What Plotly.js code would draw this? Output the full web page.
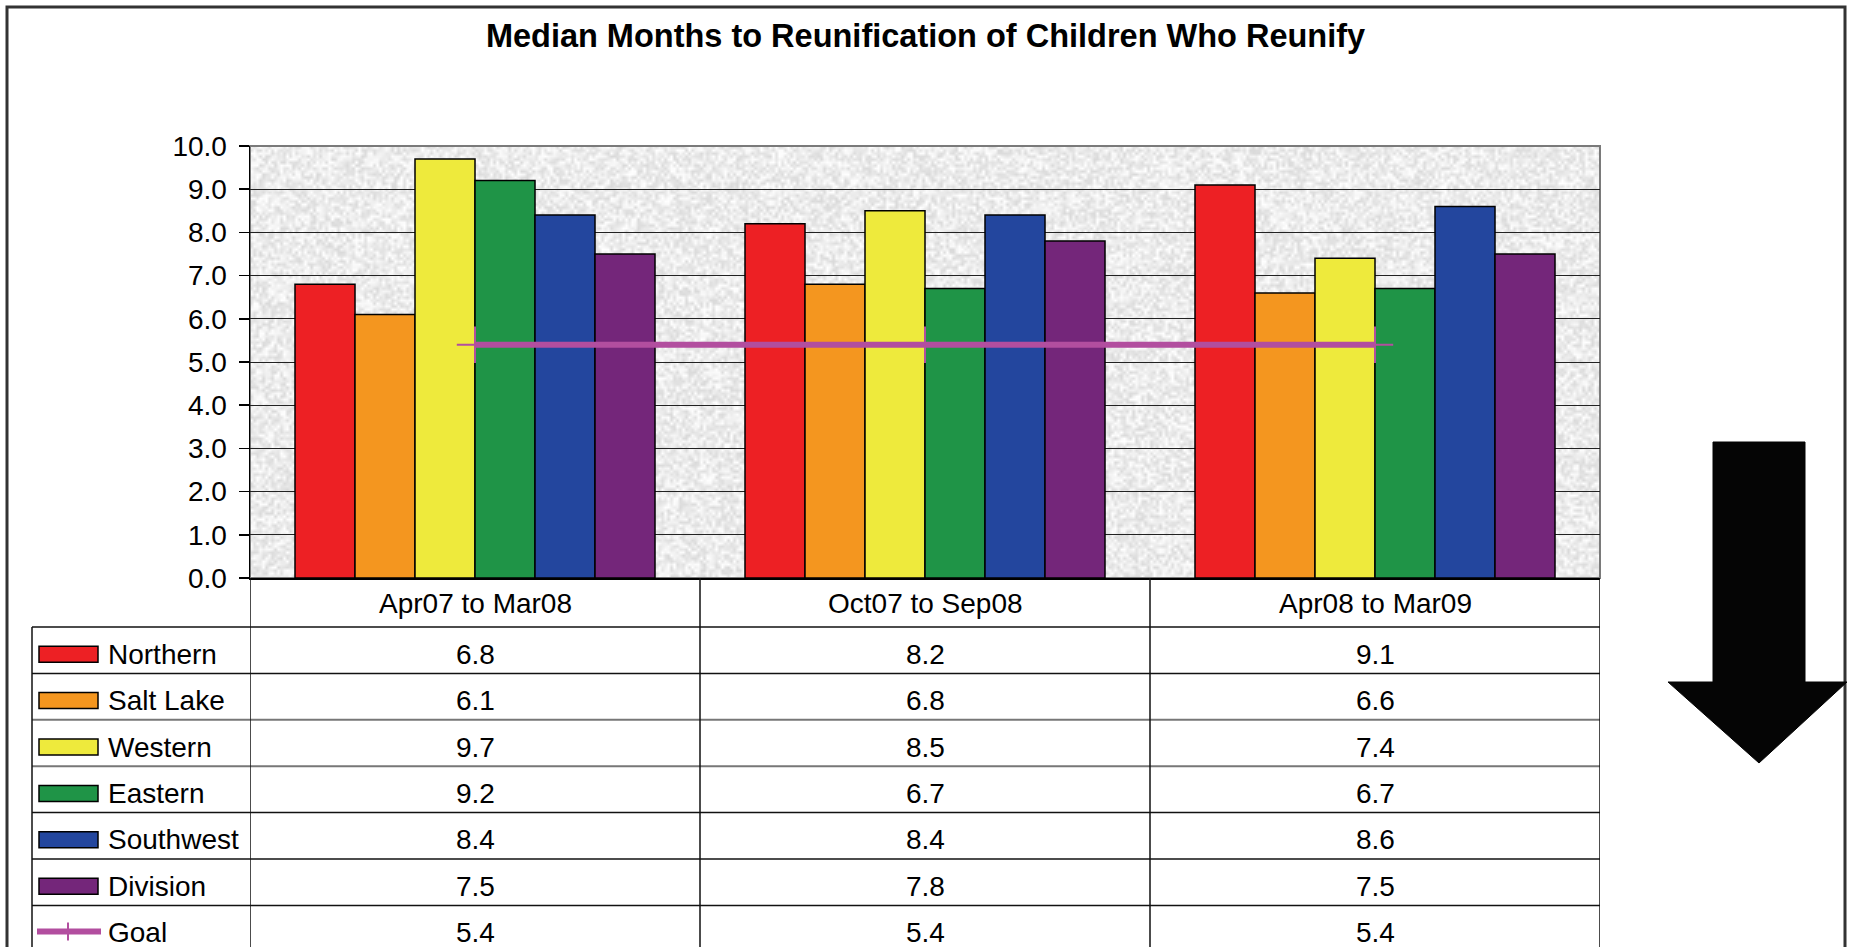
<!DOCTYPE html>
<html>
<head>
<meta charset="utf-8">
<script src="https://cdn.plot.ly/plotly-3.0.1.min.js"></script>
<style>
  html, body { margin: 0; padding: 0; background: #fff; }
  #chart { width: 1851px; height: 947px; }
</style>
</head>
<body>
<div id="chart"></div>
<script>
const periods = ["Apr07 to Mar08", "Oct07 to Sep08", "Apr08 to Mar09"];

const regions = ["Northern", "Salt Lake", "Western", "Eastern", "Southwest", "Division"];
const regionColors = ["#ED2024", "#F4961F", "#EEEA3C", "#1F9447", "#23469E", "#74267A"];

const northern = [6.8, 8.2, 9.1];
const saltLake = [6.1, 6.8, 6.6];
const western = [9.7, 8.5, 7.4];
const eastern = [9.2, 6.7, 6.7];
const southwest = [8.4, 8.4, 8.6];
const division = [7.5, 7.8, 7.5];
const regionValues = [northern, saltLake, western, eastern, southwest, division];

const goal = [5.4, 5.4, 5.4];
const goalColor = "#B24E9F";

const yTicks = [0, 1, 2, 3, 4, 5, 6, 7, 8, 9, 10];

// figure is laid out in pixels, converted to paper fractions
const W = 1851, H = 947;
const px = x => x / W;
const py = y => 1 - y / H;
const FONT = "Arial, 'Liberation Sans', sans-serif";

// light "newsprint" texture for the plot background (decoration only)
function textura() {
  const c = document.createElement("canvas");
  c.width = 450; c.height = 144;
  const ctx = c.getContext("2d");
  const img = ctx.createImageData(c.width, c.height);
  let s = 12345;
  const next = () => { s = (s * 1103515245 + 12345) & 0x7fffffff; return s / 0x7fffffff; };
  for (let i = 0; i < c.width * c.height; i++) {
    const v = 218 + Math.floor(next() * 38);
    img.data[i * 4] = v; img.data[i * 4 + 1] = v; img.data[i * 4 + 2] = v; img.data[i * 4 + 3] = 255;
  }
  ctx.putImageData(img, 0, 0);
  const big = document.createElement("canvas");
  big.width = 1350; big.height = 432;
  const b = big.getContext("2d");
  b.imageSmoothingEnabled = true;
  b.drawImage(c, 0, 0, big.width, big.height);
  return big.toDataURL("image/png");
}

const traces = regions.map((nome, i) => ({
  type: "bar",
  name: nome,
  x: periods,
  y: regionValues[i],
  marker: { color: regionColors[i], line: { color: "#000", width: 1.5 } },
  hoverinfo: "x+y+name"
}));

traces.push({
  type: "scatter",
  mode: "lines+markers",
  name: "Goal",
  x: periods,
  y: goal,
  line: { color: goalColor, width: 6 },
  marker: { symbol: "cross-thin", size: 26, line: { color: goalColor, width: 2 } }
});

// data table under the chart
const headerTop = 578, headerBottom = 627, rowH = 46.4;
const tableLeft = 32, tableRight = 1600, tableBottom = 960;
const shapes = [];
const annotations = [];
const txt = { family: FONT, size: 28, color: "#000" };

periods.forEach(p => {
  annotations.push({
    x: p, xref: "x", xanchor: "center",
    y: py((headerTop + headerBottom) / 2 + 1), yref: "paper", yanchor: "middle",
    text: p, showarrow: false, font: txt
  });
});

const rowNames = regions.concat(["Goal"]);
const rowValues = regionValues.concat([goal]);

rowNames.forEach((nome, r) => {
  const top = headerBottom + r * rowH;
  const mid = top + rowH / 2 + 4;
  rowValues[r].forEach((v, c) => {
    annotations.push({
      x: periods[c], xref: "x", xanchor: "center",
      y: py(mid), yref: "paper", yanchor: "middle",
      text: v.toFixed(1), showarrow: false, font: txt
    });
  });
  annotations.push({
    x: px(106), xref: "paper", xanchor: "left",
    y: py(mid), yref: "paper", yanchor: "middle",
    text: nome, showarrow: false, font: txt
  });
  if (r < regions.length) {
    shapes.push({
      type: "rect", xref: "paper", yref: "paper",
      x0: px(39), x1: px(98), y0: py(mid - 8), y1: py(mid + 8),
      fillcolor: regionColors[r], line: { color: "#000", width: 1.5 }
    });
  } else {
    shapes.push({
      type: "line", xref: "paper", yref: "paper",
      x0: px(37), x1: px(101), y0: py(mid - 1), y1: py(mid - 1),
      line: { color: goalColor, width: 6 }
    });
    shapes.push({
      type: "line", xref: "paper", yref: "paper",
      x0: px(68), x1: px(68), y0: py(mid - 10), y1: py(mid + 8),
      line: { color: goalColor, width: 2 }
    });
  }
  // row separator
  shapes.push({
    type: "line", xref: "paper", yref: "paper",
    x0: px(tableLeft), x1: px(tableRight), y0: py(top), y1: py(top),
    line: { color: (r === 2 || r === 3) ? "#777" : "#111", width: (r === 2 || r === 3) ? 2 : 1.5 }
  });
});

// column dividers on the category boundaries
[-0.5, 0.5, 1.5, 2.5].forEach(b => {
  shapes.push({
    type: "line", xref: "x", yref: "paper",
    x0: b, x1: b, y0: py(headerTop), y1: py(tableBottom),
    line: { color: "#111", width: 1.5 }
  });
});
shapes.push({
  type: "line", xref: "paper", yref: "paper",
  x0: px(tableLeft), x1: px(tableLeft), y0: py(headerBottom), y1: py(tableBottom),
  line: { color: "#111", width: 1.5 }
});

// plot area border
shapes.push({
  type: "rect", xref: "x domain", yref: "y domain", x0: 0, x1: 1, y0: 0, y1: 1,
  line: { color: "#7a7a7a", width: 2 }, layer: "below"
});

// outer frame
shapes.push({
  type: "rect", xref: "paper", yref: "paper",
  x0: px(7), x1: px(1845), y0: py(7), y1: py(960),
  line: { color: "#333", width: 3 }
});

// big down arrow on the right
const seta = [[1713, 442], [1805, 442], [1805, 682], [1847, 682], [1759, 763], [1668, 682], [1713, 682]];
shapes.push({
  type: "path", xref: "paper", yref: "paper",
  path: "M " + seta.map(p => px(p[0]).toFixed(5) + " " + py(p[1]).toFixed(5)).join(" L ") + " Z",
  fillcolor: "#050505", line: { color: "#050505", width: 1 }
});

const layout = {
  width: W,
  height: H,
  margin: { l: 0, r: 0, t: 0, b: 0 },
  paper_bgcolor: "#fff",
  plot_bgcolor: "rgba(0,0,0,0)",
  showlegend: false,
  barmode: "group",
  bargap: 0.2,
  bargroupgap: 0,
  title: {
    text: "<b>Median Months to Reunification of Children Who Reunify</b>",
    font: { family: FONT, size: 32.5, color: "#000" },
    x: 0.5, xanchor: "center", y: py(36), yanchor: "middle"
  },
  xaxis: {
    domain: [px(250), px(1600)],
    type: "category",
    showticklabels: false,
    ticks: "",
    showgrid: false,
    showline: true,
    linecolor: "#000",
    linewidth: 1.5,
    range: [-0.5, 2.5],
    fixedrange: true
  },
  yaxis: {
    domain: [py(578), py(146)],
    range: [0, 10],
    tickvals: yTicks,
    tickformat: ".1f",
    ticks: "outside",
    ticklen: 10,
    tickcolor: "#000",
    tickwidth: 1.5,
    ticklabelstandoff: 6,
    tickfont: { family: FONT, size: 28, color: "#000" },
    showgrid: true,
    gridcolor: "#222",
    gridwidth: 1,
    zeroline: false,
    showline: true,
    linecolor: "#000",
    linewidth: 1.5,
    fixedrange: true
  },
  images: [{
    source: textura(),
    xref: "paper", yref: "paper",
    x: px(250), y: py(146),
    sizex: 1350 / W, sizey: 432 / H,
    xanchor: "left", yanchor: "top",
    sizing: "stretch",
    layer: "below"
  }],
  shapes: shapes,
  annotations: annotations
};

Plotly.newPlot("chart", traces, layout, { displayModeBar: false, staticPlot: true });
</script>
</body>
</html>
